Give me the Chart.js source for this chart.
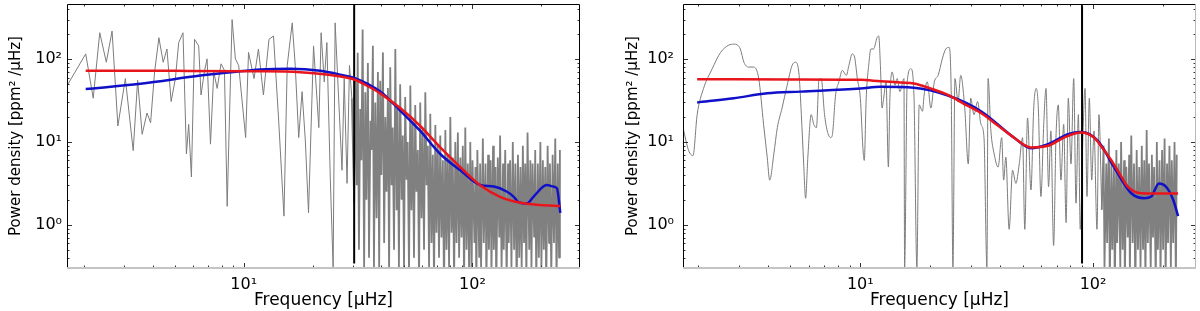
<!DOCTYPE html>
<html>
<head>
<meta charset="utf-8">
<script src="https://cdn.jsdelivr.net/npm/chart.js@4.4.1/dist/chart.umd.min.js"></script>
<style>
  body { margin: 0; background: #fff; }
  #wrap { display: flex; width: 1200px; height: 311px; }
  canvas { display: block; }
</style>
</head>
<body>
<div id="wrap">
  <canvas id="left" width="600" height="311"></canvas>
  <canvas id="right" width="600" height="311"></canvas>
</div>
<script>
// ---- left panel (numax ~ 30 muHz) ----
const gray1Freq = [1.69, 2.04, 2.20, 2.35, 2.51, 2.66, 2.82, 3.04, 3.29, 3.44,
  3.60, 3.78, 3.92, 4.08, 4.26, 4.45, 4.62, 4.82, 5.03, 5.20,
  5.43, 5.62, 5.75, 5.91, 6.10, 6.36, 6.51, 6.73, 6.92, 7.16,
  7.40, 7.66, 7.96, 8.24, 8.47, 8.75, 8.90, 9.20, 9.51, 10.2,
  10.5, 11.1, 11.6, 12.2, 12.9, 13.5, 14.2, 15.0, 15.5, 16.3,
  16.8, 17.4, 18.0, 18.6, 19.2, 20.2, 21.3, 21.8, 22.5, 23.1,
  23.9, 24.6, 25.1, 26.0, 26.9, 27.5, 28.3, 29.0, 29.7,
  30.4, 30.8, 31.2, 31.5, 31.9, 32.3, 32.7, 33.1, 33.6, 34.0,
  34.4, 34.9, 35.3, 35.8, 36.2, 36.7, 37.1, 37.6, 38.1, 38.6,
  39.1, 39.5, 40.0, 40.6, 41.1, 41.6, 42.1, 42.7, 43.2, 43.7,
  44.3, 44.8, 45.4, 46.0, 46.6, 47.1, 47.7, 48.3, 49.0, 49.6,
  50.2, 50.8, 51.5, 52.1, 52.8, 53.5, 54.1, 54.8, 55.5, 56.2,
  56.9, 57.7, 58.4, 59.1, 59.9, 60.6, 61.4, 62.2, 63.0, 63.8,
  64.6, 65.4, 66.2, 67.1, 67.9, 68.8, 69.6, 70.5, 71.4, 72.3,
  73.2, 74.2, 75.1, 76.1, 77.0, 78.0, 79.0, 80.0, 81.0, 82.0,
  83.1, 84.1, 85.2, 86.3, 87.4, 88.5, 89.6, 90.7, 91.9, 93.0,
  94.2, 95.4, 96.6, 97.8, 99.1, 100, 102, 103, 104, 105,
  107, 108, 109, 111, 112, 114, 115, 117, 118, 120,
  121, 123, 124, 126, 127, 129, 131, 132, 134, 136,
  137, 139, 141, 143, 144, 146, 148, 150, 152, 154,
  156, 158, 160, 162, 164, 166, 168, 170, 172, 174,
  177, 179, 181, 183, 186, 188, 190, 193, 195, 198,
  200, 203, 205, 208, 210, 213, 216, 218, 221, 224,
  227, 230, 233, 236, 239, 241];
const gray1Power = [47.8, 116, 33.8, 209, 92, 219, 15.6, 58.4, 7.85, 55.7,
  12.4, 22.4, 17.1, 70.2, 182, 92, 133, 30.8, 58.4, 159,
  209, 7.16, 16.3, 3.78, 174, 145, 37, 70.2, 101, 9.42,
  70.2, 44.4, 88, 73.3, 1.67, 53.3, 301, 101, 84, 11.3,
  121, 58.4, 133, 37, 174, 191, 19.5, 1.27, 84, 275,
  84, 11.3, 40.6, 10.3, 1.39, 145, 14.9, 209, 53.3, 159,
  3.78, 0.3, 275, 33.8, 4.55, 58.4, 3.16, 84, 33.8,
  1.8, 60, 3, 120, 0.5, 25, 6, 229, 0.3, 40,
  2, 90, 0.4, 18, 8, 145, 0.3, 30, 1.2, 70,
  0.3, 55, 4, 121, 0.6, 20, 2.5, 45, 0.25, 80,
  3, 15, 0.5, 133, 1.5, 25, 0.3, 50, 2, 12,
  0.3, 35, 3.5, 10, 0.25, 48, 1.5, 18, 0.4, 28,
  2.5, 8, 0.2, 30, 1.2, 14, 0.5, 40, 3, 9,
  0.3, 22, 0.6, 7, 0.2, 16, 0.8, 9, 0.4, 12,
  0.7, 6, 0.15, 14, 0.5, 7, 0.3, 20, 0.8, 6.5,
  0.2, 10, 0.6, 13, 0.4, 6.5, 0.7, 9, 0.2, 15,
  0.5, 5.5, 0.3, 10, 0.2, 6, 0.6, 5, 0.15, 8,
  0.4, 5.5, 0.3, 11, 0.6, 5.5, 0.2, 7, 0.5, 6,
  0.25, 9, 0.5, 5, 0.15, 6.5, 0.7, 12, 0.3, 5.5,
  0.5, 8, 0.2, 5.5, 0.6, 6, 0.3, 10, 0.5, 5.5,
  0.15, 7, 0.4, 5, 0.3, 9, 0.6, 5.5, 0.2, 13,
  0.5, 6, 0.3, 5.5, 0.7, 8, 0.2, 5.5, 0.4, 10,
  0.3, 6, 0.5, 5, 0.15, 9, 0.6, 5.5, 0.25, 7,
  0.6, 11, 0.2, 5.5, 0.4, 8];
const blue1Freq = [2.04, 3.54, 6.47, 9.02, 11.8, 16.0, 21.6, 26.4, 30.4, 39.5,
  48.3, 59.1, 72.3, 88.4, 108, 124, 141, 151, 159, 173, 185, 211, 226, 234, 242];
const blue1Power = [43.6, 50.5, 63.4, 70.1, 75.2, 76.8, 72.6, 65.2, 59.4, 40.6,
  24.0, 13.6, 7.16, 4.55, 3.02, 2.89, 2.52, 2.19, 1.87, 1.80, 2.19, 3.02, 2.89, 2.75, 1.39];
const red1Freq = [2.04, 5.0, 10.7, 17.7, 23.0, 30.4, 34.6, 39.5, 48.3, 59.1,
  72.3, 88.4, 108, 132, 162, 198, 242];
const red1Power = [72.6, 72.4, 71.6, 69.7, 65.2, 56.8, 47.8, 38.7, 25.7, 15.6,
  8.6, 4.97, 2.99, 2.17, 1.84, 1.73, 1.68];
const numax1 = 30.4;

// ---- right panel (numax ~ 90 muHz) ----
const gray2Freq = [1.73, 1.83, 1.91, 1.99, 2.12, 2.31, 2.51, 2.72, 2.86, 3.05,
  3.16, 3.31, 3.48, 3.66, 3.84, 3.98, 4.08, 4.25, 4.40, 4.61,
  4.85, 5.09, 5.26, 5.44, 5.58, 5.71, 5.82, 5.95, 6.15, 6.31,
  6.48, 6.64, 6.79, 7.02, 7.21, 7.45, 7.57, 7.83, 8.09, 8.37,
  8.71, 8.93, 9.24, 9.45, 9.71, 10.0, 10.3, 10.4, 10.6, 10.9,
  11.1, 11.4, 11.8, 12.0, 12.2, 12.4, 12.6, 12.9, 13.2, 13.4,
  13.7, 14.1, 14.4, 14.8, 15.4, 15.5, 15.9, 16.5, 17.0, 17.5,
  17.9, 18.5, 18.8, 19.4, 20.1, 20.8, 21.6, 22.5, 23.3, 24.1,
  24.6, 25.0, 25.5, 26.3, 27.0, 28.1, 29.1, 29.8, 30.8, 31.9, 33.0,
  34.0, 35.0, 35.4, 36.4, 37.6, 39.1, 40.5, 41.3, 42.2, 43.6,
  45.1, 46.6, 48.2, 49.8, 50.9, 52.3, 54.1, 55.6, 57.0, 58.2,
  59.7, 61.4, 62.8, 64.4, 65.9, 67.7, 69.3, 70.9, 72.8, 74.8,
  76.6, 78.3, 80.4, 82.6, 84.5, 86.5, 88.1, 90.6, 92.4, 94.2,
  96.4, 98.7, 101, 104, 106, 109,
  111, 112, 114, 115, 117, 118, 120, 121, 123, 124,
  126, 127, 129, 131, 132, 134, 136, 137, 139, 141,
  143, 144, 146, 148, 150, 152, 154, 156, 158, 160,
  162, 164, 166, 168, 170, 172, 174, 177, 179, 181,
  183, 186, 188, 190, 193, 195, 198, 200, 203, 205,
  208, 210, 213, 216, 218, 221, 224, 227, 229];
const gray2Power = [14.9, 7.85, 6.85, 21.4, 44.4, 76.7, 121, 148, 152, 133,
  92, 80.4, 80.4, 58.4, 16.3, 6.55, 3.46, 7.16, 14.9, 25.7,
  48.5, 84, 92, 70.2, 21.4, 5.44, 2.09, 6.55, 21.4, 16.3,
  14.9, 55.7, 58.4, 21.4, 13.6, 11.3, 11.9, 37, 53.3, 73.3,
  63.8, 84, 116, 106, 58.4, 33.8, 7.16, 5.98, 33.8, 92,
  133, 133, 182, 191, 84, 25.7, 33.8, 53.3, 4.98, 33.8,
  70.2, 48.5, 58.4, 40.6, 58.4, 0.3, 53.3, 76.7, 37, 0.3,
  28.1, 23.5, 37, 53.3, 25.7, 53.3, 63.8, 101, 133, 139,
  33.8, 0.3, 58.4, 30.8, 63.8, 25.7, 5.44, 33.8, 21.4, 30.8, 16.3,
  11.3, 0.3, 58.4, 13.6, 7.16, 4.98, 11.3, 3.46, 6.55, 0.88,
  4.55, 3.16, 5.44, 11.3, 0.88, 19.5, 2.63, 25.7, 44.4, 25.7,
  2.19, 16.3, 44.4, 2.88, 13.6, 0.56, 11.3, 28.1, 3.46, 16.3,
  1.06, 33.8, 5.44, 58.4, 1.82, 21.4, 0.88, 13.6, 44.4, 2.19,
  33.8, 3.46, 13.6, 0.88, 21.4, 1.52,
  9, 0.3, 5.5, 0.6, 11, 0.2, 6, 0.5, 5, 0.15,
  8, 0.6, 5.5, 0.3, 10, 0.5, 6, 0.2, 5, 0.7,
  7, 0.25, 12, 0.6, 5.5, 0.15, 8, 0.5, 5, 0.3,
  9, 0.5, 6, 0.2, 14, 0.6, 5.5, 0.3, 7, 0.7,
  5, 0.2, 10, 0.5, 6, 0.25, 8, 0.5, 11, 0.2,
  5.5, 0.6, 9, 0.3, 6, 0.6, 10, 0.2, 7];
const blue2Freq = [1.99, 2.86, 3.98, 5.54, 10.0, 12.2, 17.0, 23.8, 33.0, 45.7,
  54.1, 64.0, 78.0, 88.8, 105, 123, 146, 166, 178, 192, 206, 221, 232];
const blue2Power = [30.0, 33.8, 38.7, 40.6, 44.3, 46.5, 45.3, 36.4, 23.5, 11.3,
  8.4, 9.4, 12.4, 13.2, 10.3, 4.98, 2.40, 2.09, 2.19, 3.16, 2.88, 2.00, 1.27];
const red2Freq = [1.99, 5.0, 10.0, 12.2, 14.9, 17.0, 20.0, 23.8, 28.0, 33.0,
  39.0, 45.7, 54.1, 64.0, 75.0, 88.8, 101, 110, 120, 130, 141, 161, 200, 232];
const red2Power = [57.3, 57.0, 56.4, 54.2, 52.3, 50.9, 44.4, 37.0, 28.7, 22.4,
  15.8, 11.3, 8.6, 9.0, 11.3, 13.0, 11.3, 8.4, 5.98, 4.15, 2.88, 2.40, 2.38, 2.38];
const numax2 = 89.7;

const Y_MIN = 0.34, Y_MAX = 465;
const FONT = 'DejaVu Sans';
const SUP = { 0: '\u2070', 1: '\u00b9', 2: '\u00b2', 3: '\u00b3' };

function pairs(xs, ys) {
  return xs.map((v, i) => ({ x: v, y: ys[i] }));
}

function decadeLabel(v) {
  const e = Math.log10(v);
  if (Math.abs(e - Math.round(e)) > 1e-6) return '';
  return '10' + SUP[Math.round(e)];
}

function logMarks(min, max) {
  let out = [];
  for (let d = Math.floor(Math.log10(min)); d <= Math.ceil(Math.log10(max)); d++) {
    for (let m = 1; m < 10; m++) {
      const v = m * Math.pow(10, d);
      if (v >= min && v <= max) out.push({ v: v, major: m === 1 });
    }
  }
  return out;
}

// inward ticks on all four sides + the box around the plot
const frame = {
  id: 'frame',
  afterDatasetsDraw(chart, args, opts) {
    const ctx = chart.ctx, a = chart.chartArea;
    const sx = chart.scales.x, sy = chart.scales.y;
    ctx.save();
    ctx.lineWidth = 1;
    ctx.strokeStyle = '#333';
    ctx.beginPath();
    for (const t of logMarks(sx.min, sx.max)) {
      const px = Math.round(sx.getPixelForValue(t.v)) + 0.5;
      const len = t.major ? 5 : 2.5;
      ctx.moveTo(px, a.bottom); ctx.lineTo(px, a.bottom - len);
      ctx.moveTo(px, a.top); ctx.lineTo(px, a.top + len);
    }
    for (const t of logMarks(sy.min, sy.max)) {
      const py = Math.round(sy.getPixelForValue(t.v)) + 0.5;
      const len = t.major ? 5 : 2.5;
      ctx.moveTo(a.left, py); ctx.lineTo(a.left + len, py);
      ctx.moveTo(a.right, py); ctx.lineTo(a.right - len, py);
    }
    ctx.stroke();

    const l = Math.round(a.left) + 0.5, r = Math.round(a.right) - 0.5;
    const t = Math.round(a.top) + 0.5, b = Math.round(a.bottom);
    ctx.strokeStyle = '#000';
    ctx.beginPath();
    ctx.moveTo(l, b); ctx.lineTo(l, t); ctx.lineTo(r, t);
    ctx.stroke();
    ctx.strokeStyle = opts.rightColor;
    ctx.beginPath();
    ctx.moveTo(r, t); ctx.lineTo(r, b);
    ctx.stroke();
    ctx.strokeStyle = '#c4c4c4';
    ctx.lineWidth = 2;
    ctx.beginPath();
    ctx.moveTo(l - 0.5, b); ctx.lineTo(r + 0.5, b);
    ctx.stroke();
    ctx.restore();
  }
};

function makePanel(id, p) {
  // the finely sampled high-frequency part is drawn with a heavier stroke
  const cut = p.grayF.findIndex(f => f >= p.denseFrom);
  const graySparse = pairs(p.grayF.slice(0, cut), p.grayP.slice(0, cut));
  const grayDense = pairs(p.grayF.slice(cut - 1), p.grayP.slice(cut - 1));

  new Chart(document.getElementById(id), {
    type: 'line',
    data: {
      datasets: [
        { data: pairs(p.redF, p.redP), borderColor: '#e8161c', borderWidth: 2.5,
          cubicInterpolationMode: 'monotone', order: 0 },
        { data: pairs(p.blueF, p.blueP), borderColor: '#1010c8', borderWidth: 2.5,
          cubicInterpolationMode: 'monotone', order: 1 },
        { data: [{ x: p.numax, y: Y_MIN }, { x: p.numax, y: Y_MAX }], borderColor: '#000',
          borderWidth: 2, order: 2 },
        { data: graySparse, borderColor: '#7c7c7c', borderWidth: 1,
          cubicInterpolationMode: p.smoothGray ? 'monotone' : 'default', order: 3 },
        { data: grayDense, borderColor: '#808080', borderWidth: 1.8,
          borderJoinStyle: 'bevel', order: 3 }
      ]
    },
    options: {
      responsive: false,
      animation: false,
      devicePixelRatio: 1,
      layout: { padding: { top: 4, right: p.padRight, bottom: 0, left: 0 } },
      elements: { point: { radius: 0 }, line: { tension: 0 } },
      plugins: {
        legend: { display: false },
        tooltip: { enabled: false },
        frame: { rightColor: p.rightColor }
      },
      scales: {
        x: {
          type: 'logarithmic', min: p.xMin, max: p.xMax,
          grid: { display: false, drawTicks: false },
          border: { display: false },
          ticks: { autoSkip: false, maxRotation: 0, padding: 7, color: '#000',
                   font: { family: FONT, size: 16 }, callback: decadeLabel },
          title: { display: true, text: 'Frequency [\u03bcHz]', color: '#000',
                   font: { family: FONT, size: 17 }, padding: { top: 0, bottom: 0 } },
          afterFit: s => { s.height = 43; s.paddingLeft = 0; s.paddingRight = 0; }
        },
        y: {
          type: 'logarithmic', min: Y_MIN, max: Y_MAX,
          grid: { display: false, drawTicks: false },
          border: { display: false },
          ticks: { autoSkip: false, padding: p.tickPad, color: '#000',
                   font: { family: FONT, size: 16 }, callback: decadeLabel },
          title: { display: true, text: 'Power density [ppm\u00b2 /\u03bcHz]', color: '#000',
                   font: { family: FONT, size: 15 }, padding: { top: p.titlePad, bottom: 0 } },
          afterFit: s => { s.width = p.yWidth; s.paddingTop = 0; s.paddingBottom = 0; }
        }
      }
    },
    plugins: [frame]
  });
}

makePanel('left', {
  grayF: gray1Freq, grayP: gray1Power, blueF: blue1Freq, blueP: blue1Power,
  redF: red1Freq, redP: red1Power, numax: numax1, smoothGray: false, denseFrom: 30,
  xMin: 1.69, xMax: 295, yWidth: 67, padRight: 20, tickPad: 5, titlePad: 7,
  rightColor: '#000'
});

makePanel('right', {
  grayF: gray2Freq, grayP: gray2Power, blueF: blue2Freq, blueP: blue2Power,
  redF: red2Freq, redP: red2Power, numax: numax2, smoothGray: true, denseFrom: 110,
  xMin: 1.73, xMax: 277, yWidth: 83, padRight: 4, tickPad: 9, titlePad: 24,
  rightColor: '#b8b8b8'
});
</script>
</body>
</html>
